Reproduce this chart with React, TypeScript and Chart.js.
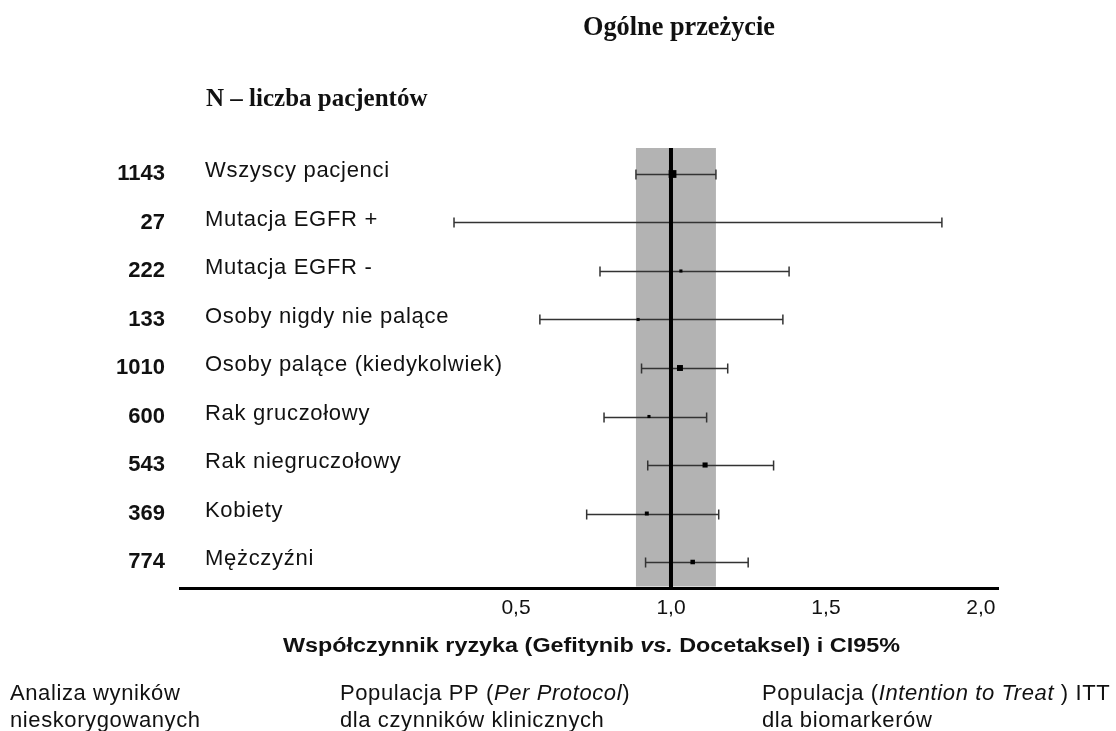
import React, { useEffect, useRef } from 'react';
import { Chart, registerables } from 'chart.js';

Chart.register(...registerables);

const chartTitle = 'Ogólne przeżycie';
const columnTitle = 'N – liczba pacjentów';
const categories = [
  'Wszyscy pacjenci',
  'Mutacja EGFR +',
  'Mutacja EGFR -',
  'Osoby nigdy nie palące',
  'Osoby palące (kiedykolwiek)',
  'Rak gruczołowy',
  'Rak niegruczołowy',
  'Kobiety',
  'Mężczyźni',
];
const patientCounts = ['1143', '27', '222', '133', '1010', '600', '543', '369', '774'];
const hazardRatio = [1.005, 1.0, 1.032, 0.894, 1.029, 0.929, 1.11, 0.922, 1.07];
const ciLower = [0.887, 0.3, 0.771, 0.577, 0.905, 0.784, 0.925, 0.728, 0.918];
const ciUpper = [1.145, 1.874, 1.381, 1.361, 1.183, 1.115, 1.331, 1.154, 1.249];
const xTickValues = [0.5, 1.0, 1.5, 2.0];
const referenceValue = 1.0;
const axisTitleParts = [
  { text: 'Współczynnik ryzyka (Gefitynib ', italic: false },
  { text: 'vs.', italic: true },
  { text: ' Docetaksel) i CI95%', italic: false },
];
const notes = [
  [
    [{ text: 'Analiza wyników', italic: false }],
    [{ text: 'nieskorygowanych', italic: false }],
  ],
  [
    [
      { text: 'Populacja PP (', italic: false },
      { text: 'Per Protocol', italic: true },
      { text: ')', italic: false },
    ],
    [{ text: 'dla czynników klinicznych', italic: false }],
  ],
  [
    [
      { text: 'Populacja (', italic: false },
      { text: 'Intention to Treat', italic: true },
      { text: ' ) ITT', italic: false },
    ],
    [{ text: 'dla biomarkerów', italic: false }],
  ],
];

const X_MIN = -0.584;
const X_MAX = 2.055;
const Y_MIN = -0.536;
const Y_MAX = categories.length - 1 + 0.536;

const SANS = '"Liberation Sans", Arial, sans-serif';
const SERIF = '"Liberation Serif", "Times New Roman", serif';

type Part = { text: string; italic: boolean };

function richWidth(ctx: CanvasRenderingContext2D, parts: Part[], weight: string, size: number) {
  let w = 0;
  for (const p of parts) {
    ctx.font = `${p.italic ? 'italic ' : ''}${weight} ${size}px ${SANS}`;
    w += ctx.measureText(p.text).width;
  }
  return w;
}

function drawRich(ctx: CanvasRenderingContext2D, parts: Part[], x: number, y: number, weight: string, size: number) {
  let cx = x;
  for (const p of parts) {
    ctx.font = `${p.italic ? 'italic ' : ''}${weight} ${size}px ${SANS}`;
    ctx.fillText(p.text, cx, y);
    cx += ctx.measureText(p.text).width;
  }
}

const forestPlugin = {
  id: 'forestPlugin',
  beforeDatasetsDraw(chart: any) {
    const { ctx, chartArea } = chart;
    const x = chart.scales.x;
    const y = chart.scales.y;
    ctx.save();
    const bx0 = x.getPixelForValue(ciLower[0]);
    const bx1 = x.getPixelForValue(ciUpper[0]);
    ctx.fillStyle = '#b3b3b3';
    ctx.fillRect(bx0, chartArea.top, bx1 - bx0, chartArea.bottom - chartArea.top - 1.5);
    ctx.strokeStyle = '#333333';
    ctx.lineWidth = 1.5;
    categories.forEach((_, i) => {
      const py = Math.round(y.getPixelForValue(i)) + 0.5;
      const a = x.getPixelForValue(ciLower[i]);
      const b = x.getPixelForValue(ciUpper[i]);
      ctx.beginPath();
      ctx.moveTo(a, py);
      ctx.lineTo(b, py);
      ctx.moveTo(a, py - 5);
      ctx.lineTo(a, py + 5);
      ctx.moveTo(b, py - 5);
      ctx.lineTo(b, py + 5);
      ctx.stroke();
    });
    ctx.restore();
  },
  afterDraw(chart: any) {
    const { ctx, chartArea } = chart;
    const y = chart.scales.y;
    ctx.save();
    ctx.fillStyle = '#111111';
    ctx.textBaseline = 'alphabetic';
    ctx.textAlign = 'left';
    ctx.font = `bold 28px ${SERIF}`;
    ctx.fillText(chartTitle, 583, 35, 192);
    ctx.font = `bold 25px ${SERIF}`;
    ctx.fillText(columnTitle, 206, 106, 229);

    (ctx as any).letterSpacing = '0.7px';
    ctx.font = `22px ${SANS}`;
    ctx.textBaseline = 'middle';
    categories.forEach((name, i) => {
      ctx.fillText(name, chartArea.left + 25, y.getPixelForValue(i) - 3);
    });
    (ctx as any).letterSpacing = '0px';

    // axis title, stretched to the reference width
    ctx.textBaseline = 'alphabetic';
    const tw = richWidth(ctx, axisTitleParts, 'bold', 20);
    const target = 617;
    ctx.save();
    ctx.translate(283, 652);
    ctx.scale(target / tw, 1);
    drawRich(ctx, axisTitleParts, 0, 0, 'bold', 20);
    ctx.restore();

    (ctx as any).letterSpacing = '0.6px';
    const noteX = [10, 340, 762];
    notes.forEach((block, bi) => {
      block.forEach((line, li) => {
        drawRich(ctx, line, noteX[bi], 700 + li * 27, 'normal', 22);
      });
    });
    (ctx as any).letterSpacing = '0px';
    ctx.restore();
  },
};

export default function App() {
  const canvasRef = useRef<HTMLCanvasElement | null>(null);

  useEffect(() => {
    const canvas = canvasRef.current;
    if (!canvas) return;
    const markerRadius = [5.5, 1.5, 2.2, 2.2, 4.2, 2.2, 3.6, 2.8, 3.2];
    const chart = new Chart(canvas, {
      type: 'scatter',
      data: {
        datasets: [
          {
            label: 'HR',
            data: hazardRatio.map((v, i) => ({ x: v, y: i })),
            pointStyle: 'rect',
            pointRadius: markerRadius,
            backgroundColor: '#000000',
            borderColor: '#000000',
            borderWidth: 0,
            order: 0,
          },
          {
            label: 'ref',
            data: [
              { x: referenceValue, y: Y_MIN },
              { x: referenceValue, y: Y_MAX },
            ],
            showLine: true,
            borderColor: '#000000',
            borderWidth: 4,
            pointRadius: 0,
            order: 1,
          } as any,
        ],
      },
      options: {
        animation: false,
        responsive: false,
        maintainAspectRatio: false,
        layout: { padding: { left: 80, top: 148, right: 118, bottom: 103 } },
        plugins: {
          legend: { display: false },
          tooltip: { enabled: false },
          title: { display: false },
        },
        scales: {
          x: {
            type: 'linear',
            position: 'bottom',
            min: X_MIN,
            max: X_MAX,
            grid: { display: false, drawTicks: false },
            border: { display: true, color: '#000000', width: 3 },
            afterBuildTicks: (scale: any) => {
              scale.ticks = xTickValues.map((v) => ({ value: v }));
            },
            afterFit: (scale: any) => {
              scale.height = 40;
            },
            ticks: {
              color: '#111111',
              font: { family: SANS, size: 21 },
              padding: 8,
              maxRotation: 0,
              autoSkip: false,
              callback: (v: any) => Number(v).toFixed(1).replace('.', ','),
            },
          },
          y: {
            type: 'linear',
            position: 'left',
            reverse: true,
            min: Y_MIN,
            max: Y_MAX,
            grid: { display: false, drawTicks: false },
            border: { display: false },
            afterBuildTicks: (scale: any) => {
              scale.ticks = categories.map((_, i) => ({ value: i }));
            },
            afterFit: (scale: any) => {
              scale.width = 100;
            },
            ticks: {
              color: '#111111',
              font: { family: SANS, size: 22, weight: 'bold' },
              padding: 15,
              autoSkip: false,
              callback: (_v: any, index: number) => patientCounts[index],
            },
          },
        },
      },
      plugins: [forestPlugin],
    });
    return () => chart.destroy();
  }, []);

  return (
    <div style={{ position: 'absolute', left: 0, top: 0, width: 1116, height: 731, background: '#ffffff' }}>
      <canvas ref={canvasRef} width={1116} height={731} style={{ width: 1116, height: 731, display: 'block' }} />
    </div>
  );
}
